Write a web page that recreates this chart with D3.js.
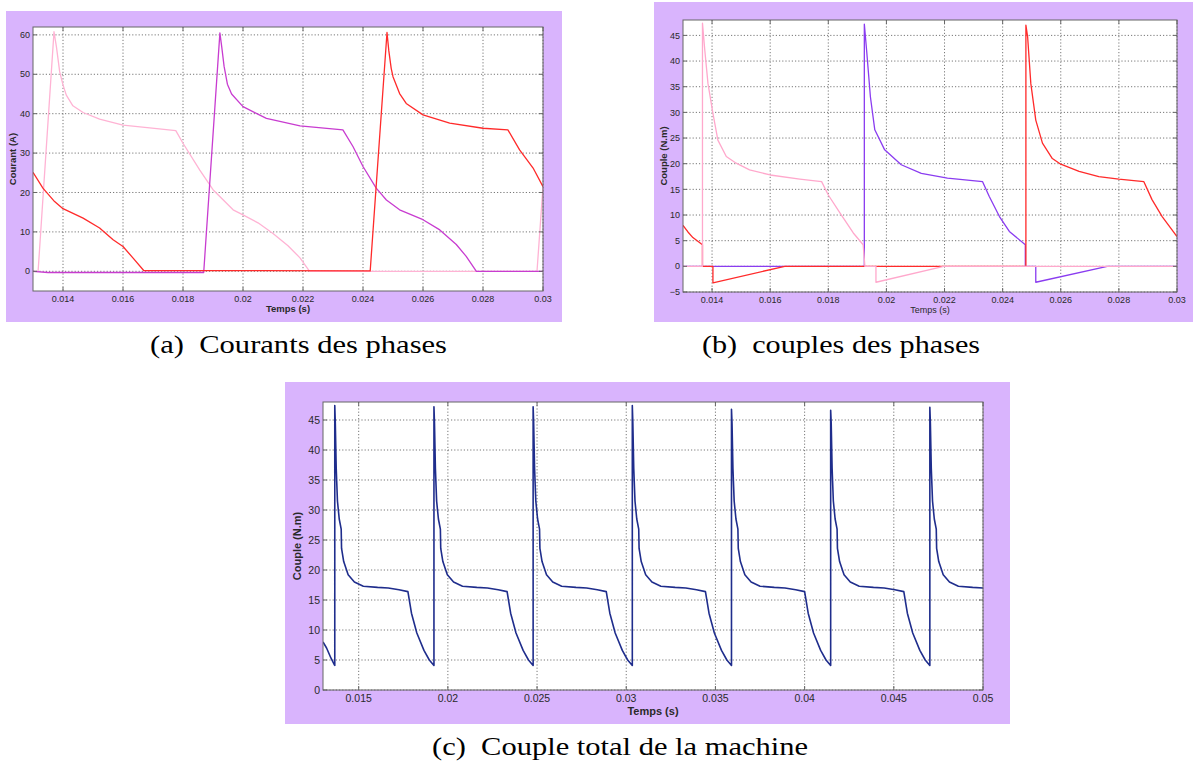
<!DOCTYPE html>
<html>
<head>
<meta charset="utf-8">
<script src="https://cdn.jsdelivr.net/npm/d3@7"></script>
<style>
  html, body { margin: 0; padding: 0; background: #fff; }
  svg { display: block; }
  .tick-label { font-family: "Liberation Sans", Arial, sans-serif; fill: #2a2a2a; }
  .caption { font-family: "Liberation Serif", "Times New Roman", serif; fill: #000; }
</style>
</head>
<body>
<div id="chart"></div>
<script>
// ---- (a) phase currents, [time (s), current (A)]
const currentPink = [[0.0130,0],[0.01317,0],[0.0137,60.8],[0.01378,57],[0.01389,50.6],[0.0140,47.3],[0.01411,44.7],
  [0.01433,42],[0.01467,40.3],[0.01522,38.6],[0.0160,37.1],[0.01689,36.4],[0.01776,35.7],[0.0180,32.5],[0.01856,25.7],
  [0.0190,20.7],[0.01967,15.6],[0.0200,14.3],[0.0205,12.3],[0.0210,9.6],[0.0215,6.5],[0.0219,3.4],[0.02222,0],
  [0.0298,0],[0.0300,21.5]];
const currentPurple = [[0.0130,0],[0.0135,-0.3],[0.01869,-0.3],[0.01923,60.5],[0.01929,57],[0.01937,52],[0.01948,47.5],
  [0.01962,45],[0.0200,41.8],[0.02078,38.8],[0.0219,36.9],[0.02333,35.9],[0.02367,31.6],[0.0240,26.6],[0.02444,21.1],
  [0.02478,18.1],[0.02522,15.6],[0.0260,13.1],[0.02656,10.5],[0.02711,6.8],[0.02744,3.8],[0.02778,0],[0.0300,0]];
const currentRed = [[0.0130,25.1],[0.01333,21.1],[0.01372,17.7],[0.0140,15.9],[0.01467,13.5],[0.01522,11],[0.01567,8],
  [0.0160,6.3],[0.01633,3.4],[0.01669,0.2],[0.02424,0.1],[0.0248,60.6],[0.02486,56],[0.02494,51.5],[0.0250,49.4],
  [0.02522,45.1],[0.02544,42.6],[0.0260,39.7],[0.02689,37.6],[0.0280,36.3],[0.02883,35.9],[0.02922,30.8],
  [0.02967,26.2],[0.0300,21.5]];

// ---- (b) phase torques, [time (s), torque (N.m)]
const torquePink = [[0.0130,0],[0.01367,0],[0.01367,47.4],[0.01375,42.1],[0.01386,35.6],[0.01403,29.8],[0.0142,24.6],
  [0.01449,21.4],[0.01483,20.1],[0.01529,18.8],[0.0160,17.8],[0.01702,17.0],[0.01777,16.5],[0.0180,13.9],[0.0184,10.4],
  [0.01886,6.5],[0.0192,4.2],[0.01926,0],[0.01964,0],[0.01964,-3.1],[0.02197,0],[0.0300,0]];
const torquePurple = [[0.0130,0],[0.01924,0],[0.01924,47.2],[0.01932,42],[0.01945,33],[0.0196,26.6],[0.01994,22.7],
  [0.02051,19.8],[0.0212,18.1],[0.0221,17.2],[0.02331,16.5],[0.02354,13.6],[0.02389,9.7],[0.02423,6.8],[0.02478,4.2],
  [0.02478,0],[0.02514,0],[0.02514,-3.1],[0.0276,0],[0.0300,0]];
const torqueRed = [[0.0130,8.0],[0.01317,6.7],[0.01334,5.6],[0.01367,4.2],[0.01367,0],[0.01403,0],[0.01403,-3.2],
  [0.0165,0],[0.0248,0],[0.0248,47.0],[0.02486,44.7],[0.02497,35.6],[0.02514,28.5],[0.02537,24],[0.02571,21],
  [0.0260,19.9],[0.02663,18.5],[0.02731,17.5],[0.0280,17.0],[0.02886,16.5],[0.02914,13],[0.02949,9.7],[0.0300,5.8]];

// ---- (c) total torque, [time (s), torque (N.m)]
const torqueTotal = [[0.0130,8.0],[0.0132,7.0],[0.01345,5.3],[0.01364,4.2],
  [0.01366,4.1],[0.01366,47.4],[0.01369,44.5],[0.01374,37],[0.01381,31.5],[0.01391,28.5],[0.01402,26.8],[0.01404,23.6],
  [0.01416,21.4],[0.01441,19.2],[0.01476,18.0],[0.01526,17.3],[0.01606,17.1],[0.01666,17.0],[0.01726,16.7],[0.01776,16.4],
  [0.01796,12.8],[0.01826,9.5],[0.01866,6.6],[0.01896,5.0],
  [0.01922,4.1],[0.01922,47.2],[0.01925,44.5],[0.0193,37],[0.01937,31.5],[0.01947,28.5],[0.01958,26.8],[0.0196,23.6],
  [0.01972,21.4],[0.01997,19.2],[0.02032,18.0],[0.02082,17.3],[0.02162,17.1],[0.02222,17.0],[0.02282,16.7],[0.02332,16.4],
  [0.02352,12.8],[0.02382,9.5],[0.02422,6.6],[0.02452,5.0],
  [0.02478,4.1],[0.02478,47.2],[0.02481,44.5],[0.02486,37],[0.02493,31.5],[0.02503,28.5],[0.02514,26.8],[0.02516,23.6],
  [0.02528,21.4],[0.02553,19.2],[0.02588,18.0],[0.02638,17.3],[0.02718,17.1],[0.02778,17.0],[0.02838,16.7],[0.02888,16.4],
  [0.02908,12.8],[0.02938,9.5],[0.02978,6.6],[0.03008,5.0],
  [0.03034,4.1],[0.03034,47.4],[0.03037,44.5],[0.03042,37],[0.03049,31.5],[0.03059,28.5],[0.0307,26.8],[0.03072,23.6],
  [0.03084,21.4],[0.03109,19.2],[0.03144,18.0],[0.03194,17.3],[0.03274,17.1],[0.03334,17.0],[0.03394,16.7],[0.03444,16.4],
  [0.03464,12.8],[0.03494,9.5],[0.03534,6.6],[0.03564,5.0],
  [0.0359,4.1],[0.0359,46.8],[0.03593,44.5],[0.03598,37],[0.03605,31.5],[0.03615,28.5],[0.03626,26.8],[0.03628,23.6],
  [0.0364,21.4],[0.03665,19.2],[0.037,18.0],[0.0375,17.3],[0.0383,17.1],[0.0389,17.0],[0.0395,16.7],[0.04,16.4],
  [0.0402,12.8],[0.0405,9.5],[0.0409,6.6],[0.0412,5.0],
  [0.04146,4.1],[0.04146,46.6],[0.04149,44.5],[0.04154,37],[0.04161,31.5],[0.04171,28.5],[0.04182,26.8],[0.04184,23.6],
  [0.04196,21.4],[0.04221,19.2],[0.04256,18.0],[0.04306,17.3],[0.04386,17.1],[0.04446,17.0],[0.04506,16.7],[0.04556,16.4],
  [0.04576,12.8],[0.04606,9.5],[0.04646,6.6],[0.04676,5.0],
  [0.04702,4.1],[0.04702,47.1],[0.04705,44.5],[0.0471,37],[0.04717,31.5],[0.04727,28.5],[0.04738,26.8],[0.0474,23.6],
  [0.04752,21.4],[0.04777,19.2],[0.04812,18.0],[0.04862,17.3],[0.04942,17.1],[0.05,17.0]];

// ---- ticks
const ticksAX = [0.014, 0.016, 0.018, 0.02, 0.022, 0.024, 0.026, 0.028, 0.03];
const ticksAY = [0, 10, 20, 30, 40, 50, 60];
const ticksBX = ticksAX;
const ticksBY = [-5, 0, 5, 10, 15, 20, 25, 30, 35, 40, 45];
const ticksCX = [0.015, 0.02, 0.025, 0.03, 0.035, 0.04, 0.045, 0.05];
const ticksCY = [0, 5, 10, 15, 20, 25, 30, 35, 40, 45];

const W = 1193, H = 763;
const svg = d3.select("#chart").append("svg").attr("width", W).attr("height", H);

const panels = [
  { id: "a", box: [6, 11, 556, 311], plot: [33, 27, 543, 291], xDom: [0.013, 0.03], yDom: [-5, 62],
    xt: ticksAX, yt: ticksAY, ylabel: "Courant (A)", ylabelX: 13, xlabelBold: true, font: 9, xlabFont: 9.5, xlabDy: 21,
    series: [[currentPink, "#ffb3d4"], [currentPurple, "#c83cd0"], [currentRed, "#ff2a2a"]], lw: 1.3,
    caption: "(a)\u2002Courants des phases", capX: 150, capY: 353, capLen: 297 },
  { id: "b", box: [654, 2, 539, 320], plot: [683, 20, 1177, 292], xDom: [0.013, 0.03], yDom: [-5, 48],
    xt: ticksBX, yt: ticksBY, ylabel: "Couple (N.m)", ylabelX: 664, xlabelBold: false, font: 9, xlabFont: 9, xlabDy: 21,
    series: [[torquePurple, "#8a3cf0"], [torqueRed, "#ff2a2a"], [torquePink, "#ffa8cc"]], lw: 1.3,
    caption: "(b)\u2002couples des phases", capX: 702, capY: 353, capLen: 278 },
  { id: "c", box: [285, 382, 725, 342], plot: [323, 402, 983, 690], xDom: [0.013, 0.05], yDom: [0, 48],
    xt: ticksCX, yt: ticksCY, ylabel: "Couple (N.m)", ylabelX: 297, xlabelBold: true, font: 10.5, xlabFont: 11, xlabDy: 24.5,
    series: [[torqueTotal, "#1f2d8c"]], lw: 1.6,
    caption: "(c)\u2002Couple total de la machine", capX: 432, capY: 755, capLen: 376 }
];

panels.forEach(p => {
  const [bx, by, bw, bh] = p.box;
  const [l, t, r, b] = p.plot;
  const g = svg.append("g");
  g.append("rect").attr("x", bx).attr("y", by).attr("width", bw).attr("height", bh).attr("fill", "#d9b4fd");
  g.append("rect").attr("x", l).attr("y", t).attr("width", r - l).attr("height", b - t).attr("fill", "#fff");

  const x = d3.scaleLinear().domain(p.xDom).range([l, r]);
  const y = d3.scaleLinear().domain(p.yDom).range([b, t]);

  // dotted grid
  const grid = g.append("g").attr("stroke", "#555").attr("stroke-width", 0.8).attr("stroke-dasharray", "1.2,2");
  p.xt.forEach(v => grid.append("line").attr("x1", x(v)).attr("x2", x(v)).attr("y1", t).attr("y2", b));
  p.yt.forEach(v => grid.append("line").attr("x1", l).attr("x2", r).attr("y1", y(v)).attr("y2", y(v)));

  // curves
  g.append("clipPath").attr("id", "clip-" + p.id).append("rect")
    .attr("x", l).attr("y", t - 1).attr("width", r - l).attr("height", b - t + 2);
  const line = d3.line().x(d => x(d[0])).y(d => y(d[1]));
  const lines = g.append("g").attr("clip-path", "url(#clip-" + p.id + ")");
  p.series.forEach(([data, color]) => {
    lines.append("path").datum(data).attr("d", line).attr("fill", "none")
      .attr("stroke", color).attr("stroke-width", p.lw).attr("stroke-linejoin", "round");
  });

  // frame + inward ticks on all four sides
  g.append("rect").attr("x", l).attr("y", t).attr("width", r - l).attr("height", b - t)
    .attr("fill", "none").attr("stroke", "#666").attr("stroke-width", 1);
  const tk = g.append("g").attr("stroke", "#666").attr("stroke-width", 1);
  p.xt.forEach(v => {
    tk.append("line").attr("x1", x(v)).attr("x2", x(v)).attr("y1", b).attr("y2", b - 4);
    tk.append("line").attr("x1", x(v)).attr("x2", x(v)).attr("y1", t).attr("y2", t + 4);
  });
  p.yt.forEach(v => {
    tk.append("line").attr("x1", l).attr("x2", l + 4).attr("y1", y(v)).attr("y2", y(v));
    tk.append("line").attr("x1", r).attr("x2", r - 4).attr("y1", y(v)).attr("y2", y(v));
  });

  // tick labels
  const fmt = d3.format("~g");
  p.xt.forEach(v => g.append("text").attr("class", "tick-label").attr("x", x(v)).attr("y", b + p.font + 1.5)
    .attr("text-anchor", "middle").attr("font-size", p.font).text(fmt(v)));
  p.yt.forEach(v => g.append("text").attr("class", "tick-label").attr("x", l - 3).attr("y", y(v) + p.font * 0.35)
    .attr("text-anchor", "end").attr("font-size", p.font).text(fmt(v)));

  // axis titles
  g.append("text").attr("class", "tick-label").attr("x", (l + r) / 2).attr("y", b + p.xlabDy)
    .attr("text-anchor", "middle").attr("font-size", p.xlabFont)
    .attr("font-weight", p.xlabelBold ? "bold" : "normal").text("Temps (s)");
  g.append("text").attr("class", "tick-label")
    .attr("transform", `translate(${p.ylabelX},${(t + b) / 2}) rotate(-90)`)
    .attr("text-anchor", "middle").attr("dy", "0.35em").attr("font-size", p.font + 0.5)
    .attr("font-weight", "bold").text(p.ylabel);

  // caption under the figure
  svg.append("text").attr("class", "caption").attr("x", p.capX).attr("y", p.capY)
    .attr("font-size", 26).attr("textLength", p.capLen).attr("lengthAdjust", "spacingAndGlyphs")
    .text(p.caption);
});
</script>
</body>
</html>
